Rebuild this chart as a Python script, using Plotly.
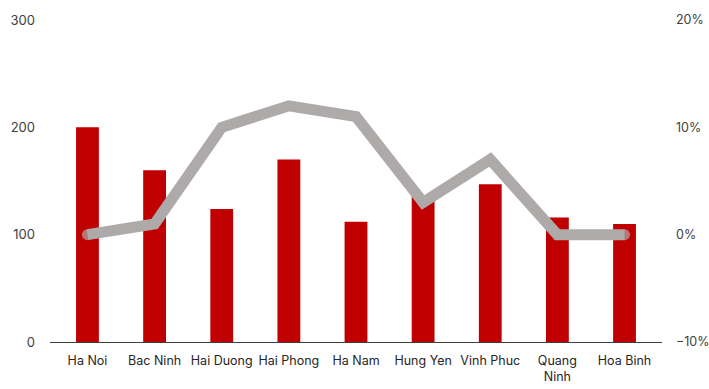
import plotly.graph_objects as go

categories = ["Ha Noi", "Bac Ninh", "Hai Duong", "Hai Phong", "Ha Nam", "Hung Yen", "Vinh Phuc", "Quang<br>Ninh", "Hoa Binh"]
bar_values = [200, 160, 124, 170, 112, 137, 147, 116, 110]
line_values = [0.0, 0.01, 0.10, 0.12, 0.11, 0.03, 0.07, 0.0, 0.0]
left_ticks = [0, 100, 200, 300]
right_ticks = [-0.10, 0.0, 0.10, 0.20]

font = dict(family="Inter, Roboto, sans-serif", size=13, color="#404040")
rfont = dict(family="Inter, Roboto, sans-serif", size=12.5, color="#404040")
xfont = dict(family="Inter, Roboto, sans-serif", size=12.5, color="#262626")

fig = go.Figure()
fig.add_trace(go.Bar(x=categories, y=bar_values, marker=dict(color="#c00000", line=dict(width=0)), yaxis="y"))
n = len(line_values)
fig.add_trace(go.Scatter(
    x=categories, y=line_values, yaxis="y2", mode="lines+markers",
    line=dict(color="#aeaaaa", width=11),
    marker=dict(color="#aeaaaa", size=[11 if i in (0, n - 1) else 0 for i in range(n)], line=dict(width=0)),
))

fig.update_layout(
    width=709, height=389,
    margin=dict(l=50, r=47, t=20, b=47),
    paper_bgcolor="white", plot_bgcolor="white",
    showlegend=False, bargap=0.66,
    font=font,
    xaxis=dict(showline=True, linecolor="#404040", linewidth=1, showgrid=False, ticks="",
               tickfont=xfont, tickangle=0, automargin=False, ticklabelstandoff=7),
    yaxis=dict(range=[0, 300], tickvals=left_ticks, showgrid=False, zeroline=False,
               showline=False, tickfont=font, ticklabelstandoff=14, automargin=False),
    yaxis2=dict(range=[-0.10, 0.20], tickvals=right_ticks, tickformat=".0%", overlaying="y",
                side="right", showgrid=False, zeroline=False, showline=False, tickfont=rfont,
                ticklabelstandoff=13, automargin=False),
)

fig.write_html("out.html")
